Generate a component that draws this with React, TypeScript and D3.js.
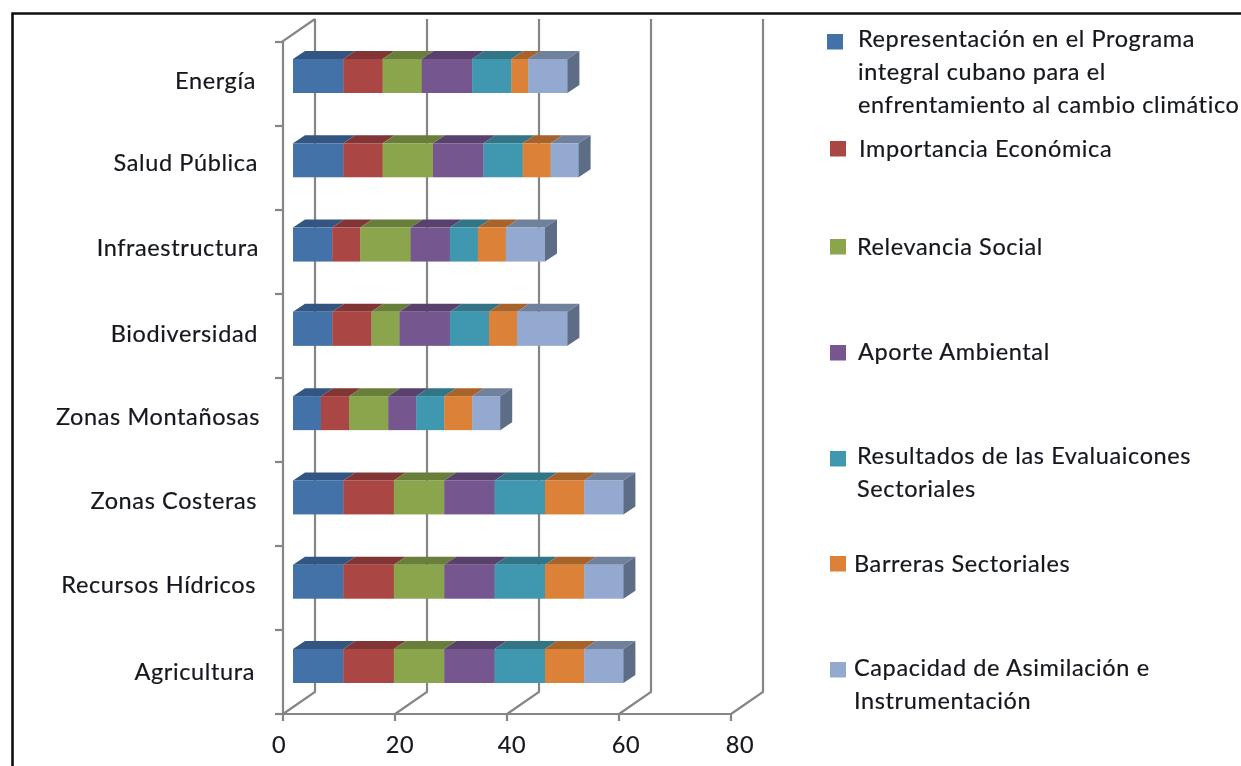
import React from "react";
import * as d3 from "d3";

const categories = ["Energía", "Salud Pública", "Infraestructura", "Biodiversidad", "Zonas Montañosas", "Zonas Costeras", "Recursos Hídricos", "Agricultura"];
const representacion = [9, 9, 7, 7, 5, 9, 9, 9];
const importancia = [7, 7, 5, 7, 5, 9, 9, 9];
const relevancia = [7, 9, 9, 5, 7, 9, 9, 9];
const aporte = [9, 9, 7, 9, 5, 9, 9, 9];
const resultados = [7, 7, 5, 7, 5, 9, 9, 9];
const barreras = [3, 5, 5, 5, 5, 7, 7, 7];
const capacidad = [7, 5, 7, 9, 5, 7, 7, 7];
const seriesValues = [representacion, importancia, relevancia, aporte, resultados, barreras, capacidad];
const xTicks = [0, 20, 40, 60, 80];
const seriesLabels = [
  ["Representación en el Programa", "integral cubano para el", "enfrentamiento al cambio climático"],
  ["Importancia Económica"],
  ["Relevancia Social"],
  ["Aporte Ambiental"],
  ["Resultados de las Evaluaicones", "Sectoriales"],
  ["Barreras Sectoriales"],
  ["Capacidad de Asimilación e", "Instrumentación"],
];

// styling and layout
const front = ["#4372A8", "#AA4644", "#8AA54C", "#74568F", "#4097B0", "#DC8139", "#93A9CF"];
const top = front.map((c) => d3.rgb(c).darker(0.75).formatHex());
const sideColor = "#5D6D86";
const grid = "#858585";
const textColor = "#14171f";
const font = "Lato, 'Open Sans', sans-serif";
const fs = 23.5;
const spacing = 0.62;
const wallDx = 32, wallDy = -22, barDx = 12, barDy = -8, barH = 34, barOffset = 10;
const wallTop = 19, axisY = 714;
const legendSwatch = [[827, 34], [830, 141], [830, 239], [830, 345], [830, 451], [830, 556], [830, 662]];
const legendText = [[858, 47], [859, 157], [857, 255], [858, 360], [857, 464], [854, 572], [854, 676]];
const catRight = [256, 258, 259, 258, 260, 257, 256, 255];
const catBase = [89, 171, 256, 342, 425, 509, 593, 680];
const tickLabelX = [279, 400, 512, 626, 740];

const x = d3.scaleLinear().domain([0, 80]).range([283, 731]);
const w = (v: number) => x(v) - x(0);
const barY = d3.scalePoint<string>().domain(categories).range([59, 649]);
const tickY = d3.scaleLinear().domain([0, categories.length]).range([42, axisY]);
const line = d3.line();

export default function App() {
  const stacks = categories.map((_, i) => {
    let acc = 0;
    return seriesValues.map((s) => {
      const start = acc;
      acc += s[i];
      return [start, acc];
    });
  });
  return (
    <svg width={1241} height={766} style={{ position: "absolute", left: 0, top: 0, background: "#fff" }}>
      <defs>
        <filter id="b" x="-5%" y="-5%" width="110%" height="110%"><feGaussianBlur stdDeviation={0.55} /></filter>
        <filter id="t" x="-5%" y="-5%" width="110%" height="110%"><feGaussianBlur stdDeviation={0.3} /></filter>
      </defs>
      <g filter="url(#b)">
        <path d="M12.5 766V13.5H1241" fill="none" stroke="#111" strokeWidth={2.6} />
        {xTicks.map((t) => (
          <g key={t} stroke={grid} strokeWidth={2.2} fill="none">
            <path d={line([[x(t) + wallDx, wallTop], [x(t) + wallDx, axisY + wallDy], [x(t), axisY]]) as string} />
            <path d={line([[x(t), axisY], [x(t), axisY + 7]]) as string} />
          </g>
        ))}
        <g stroke={grid} strokeWidth={2.2} fill="none">
          <path d={line([[x(0) + wallDx, wallTop], [x(0), wallTop - wallDy], [x(0), axisY], [x(80), axisY]]) as string} />
          {d3.range(categories.length + 1).map((i) => (
            <path key={i} d={line([[x(0) - 8, tickY(i)], [x(0), tickY(i)]]) as string} />
          ))}
        </g>
        {categories.map((c, i) => {
          const y0 = barY(c) as number;
          const total = stacks[i][stacks[i].length - 1][1];
          const xe = x(total) + barOffset;
          return (
            <g key={c}>
              {stacks[i].map(([a, b], j) => {
                const xa = x(a) + barOffset, xb = x(b) + barOffset;
                return (
                  <g key={j}>
                    <path fill={top[j]} d={line([[xa, y0], [xa + barDx, y0 + barDy], [xb + barDx, y0 + barDy], [xb, y0]]) + "Z"} />
                    <rect x={xa} y={y0} width={w(b - a) + 0.3} height={barH} fill={front[j]} />
                  </g>
                );
              })}
              <path fill={sideColor} d={line([[xe, y0], [xe + barDx, y0 + barDy], [xe + barDx, y0 + barDy + barH], [xe, y0 + barH]]) + "Z"} />
            </g>
          );
        })}
        {legendSwatch.map(([sx, sy], j) => (
          <rect key={j} x={sx} y={sy} width={16} height={15.5} fill={front[j]} />
        ))}
      </g>
      <g filter="url(#t)" fontFamily={font} fontSize={fs} fill={textColor} letterSpacing={spacing} stroke={textColor} strokeWidth={0.2}>
        {categories.map((c, i) => (
          <text key={c} x={catRight[i]} y={catBase[i]} textAnchor="end">{c}</text>
        ))}
        {xTicks.map((t, i) => (
          <text key={t} x={tickLabelX[i]} y={753} textAnchor="middle">{t}</text>
        ))}
        {seriesLabels.map((lines, j) =>
          lines.map((l, k) => (
            <text key={k} x={legendText[j][0]} y={legendText[j][1] + k * 33}>{l}</text>
          ))
        )}
      </g>
    </svg>
  );
}
